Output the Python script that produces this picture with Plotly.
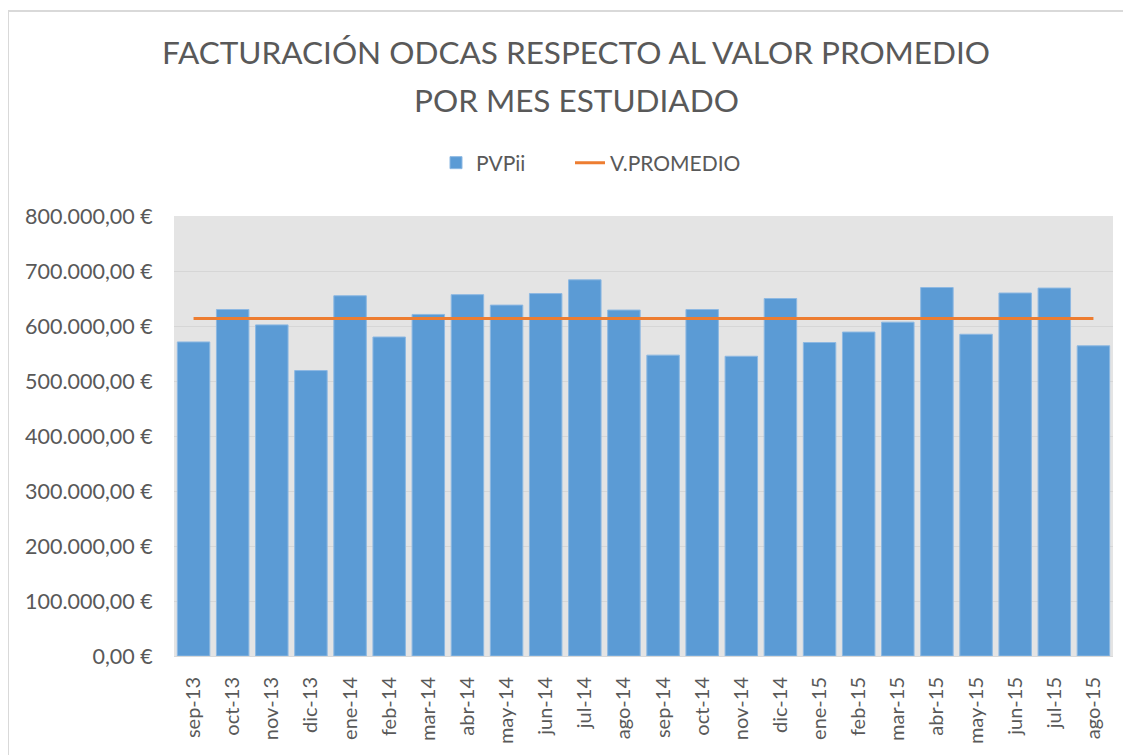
import plotly.graph_objects as go

meses = ["sep-13", "oct-13", "nov-13", "dic-13", "ene-14", "feb-14", "mar-14", "abr-14",
         "may-14", "jun-14", "jul-14", "ago-14", "sep-14", "oct-14", "nov-14", "dic-14",
         "ene-15", "feb-15", "mar-15", "abr-15", "may-15", "jun-15", "jul-15", "ago-15"]
pvpii = [571000, 630000, 602000, 519000, 655000, 580000, 621000, 657000,
         638000, 659000, 684000, 629000, 547000, 630000, 545000, 650000,
         570000, 589000, 607000, 670000, 585000, 660000, 669000, 564000]
v_promedio = [613800] * 24

titulo = ["FACTURACIÓN ODCAS RESPECTO AL VALOR PROMEDIO", "POR MES ESTUDIADO"]

FONT = "Lato"
GRAY = "#595959"

# page body has an 8px margin -> figure coords = reference coords - 8
W, H = 1131, 755
ML, MR, MT, MB = 166, 26, 208, 107
PW, PH = W - ML - MR, H - MT - MB


def px_x(x):
    return (x - 8 - ML) / PW


def px_y(y):
    return (H - MB - (y - 8)) / PH


fig = go.Figure()
fig.add_trace(go.Bar(
    x=meses, y=pvpii, name="PVPii", legend="legend",
    marker=dict(color="#5B9BD5", line=dict(color="#8DB8E2", width=1)),
))
fig.add_trace(go.Scatter(
    x=meses, y=v_promedio, name="V.PROMEDIO", mode="lines", legend="legend2",
    line=dict(color="#ED7D31", width=3),
))

leg_common = dict(
    orientation="h", xanchor="left", y=px_y(163), yanchor="middle",
    font=dict(family=FONT, size=21, color=GRAY), bgcolor="rgba(0,0,0,0)",
)
fig.update_layout(
    width=W, height=H,
    paper_bgcolor="white", plot_bgcolor="#E4E4E4",
    margin=dict(l=ML, r=MR, t=MT, b=MB),
    separators=",.",
    bargap=0.17,
    font=dict(family=FONT, color=GRAY),
    legend=dict(x=px_x(436), **leg_common),
    legend2=dict(x=px_x(570), **leg_common),
    showlegend=True,
)
for i, t in enumerate(titulo):
    fig.add_annotation(
        text=t, xref="paper", yref="paper", x=px_x(576), y=px_y(52 + 48 * i),
        xanchor="center", yanchor="middle", showarrow=False,
        font=dict(family=FONT, size=31.5, color=GRAY),
    )
fig.update_xaxes(
    type="category", tickangle=-90, showgrid=False,
    tickfont=dict(family=FONT, size=20, color=GRAY),
    showline=True, linecolor="#D9D9D9", linewidth=1,
    ticks="outside", ticklen=12, tickcolor="rgba(0,0,0,0)",
)
fig.update_yaxes(
    range=[0, 800000], dtick=100000, tickformat=",.2f", ticksuffix=" €",
    showgrid=True, gridcolor="#D6D6D6", gridwidth=1, zeroline=False,
    tickfont=dict(family=FONT, size=21.5, color=GRAY),
    ticks="outside", ticklen=16, tickcolor="rgba(0,0,0,0)",
)
# outer chart border (left and top edges visible)
fig.add_shape(type="line", xref="paper", yref="paper",
              x0=px_x(8), x1=px_x(8), y0=px_y(800), y1=px_y(11),
              line=dict(color="#D9D9D9", width=2))
fig.add_shape(type="line", xref="paper", yref="paper",
              x0=px_x(8), x1=px_x(1200), y0=px_y(11), y1=px_y(11),
              line=dict(color="#D9D9D9", width=2))

fig.write_html("out.html")
